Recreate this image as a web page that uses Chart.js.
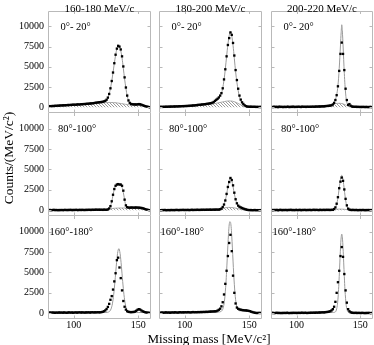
<!DOCTYPE html>
<html><head><meta charset="utf-8">
<script src="https://cdn.jsdelivr.net/npm/chart.js@4/dist/chart.umd.min.js"></script>
<style>
html,body{margin:0;padding:0;background:#fff}
body{width:374px;height:345px;position:relative;overflow:hidden;font-family:"Liberation Serif",serif;color:#000}
canvas{position:absolute}
.t{position:absolute;white-space:nowrap;line-height:1;transform:translate(-50%,-50%)}
.a{position:absolute;white-space:nowrap;line-height:1;transform:translateY(-50%)}
</style></head><body>
<script>
// ---------------- data ----------------
const massBins=[80.5,81.5,82.5,83.5,84.5,85.5,86.5,87.5,88.5,89.5,
90.5,91.5,92.5,93.5,94.5,95.5,96.5,97.5,98.5,99.5,
100.5,101.5,102.5,103.5,104.5,105.5,106.5,107.5,108.5,109.5,
110.5,111.5,112.5,113.5,114.5,115.5,116.5,117.5,118.5,119.5,
120.5,121.5,122.5,123.5,124.5,125.5,126.5,127.5,128.5,129.5,
130.5,131.5,132.5,133.5,134.5,135.5,136.5,137.5,138.5,139.5,
140.5,141.5,142.5,143.5,144.5,145.5,146.5,147.5,148.5,149.5,
150.5,151.5,152.5,153.5,154.5,155.5,156.5,157.5,158.5,159.5];
const fitMass=[80,90,100,110,116,120,123,125,126,127,128,129,130,131,132,
132.5,133,133.5,134,134.5,135,135.5,136,136.5,137,137.5,138,
139,140,141,142,143,144,146,148,150,153,156,160];
const bgMass=[80,90,100,110,115,120,125,128,131,134,137,140,143,146,150,155,160];
const yTicks=[0,2500,5000,7500,10000];
const xTicks=[100,150];
const momentumLabels=['160-180 MeV/c','180-200 MeV/c','200-220 MeV/c'];
const angleLabels=['0°- 20°','80°-100°','160°-180°'];

// row 1 : 0-20 deg
const countsA=[120,150,130,170,160,190,180,210,200,230,
230,250,240,270,260,290,280,300,310,320,
330,320,350,360,350,380,390,400,410,420,
440,450,470,480,500,520,550,570,600,620,
640,660,690,730,800,940,1200,1650,2350,3250,
4300,5450,6500,7250,7600,7500,7150,6300,5050,3700,
2450,1450,850,550,420,380,370,360,350,380,
400,380,330,260,200,150,100,60,30,10];
const fitA=[120,240,330,440,550,630,700,820,1000,1380,1950,2750,3750,4850,5950,
6450,6900,7250,7500,7620,7620,7480,7300,7000,6600,6100,5500,
4150,2900,1850,1100,680,470,380,360,300,290,130,20];
const bgA=[110,220,320,410,460,520,580,600,590,540,460,380,320,280,230,150,80];

const countsB=[40,60,50,70,60,80,70,90,80,100,
90,110,100,120,110,130,130,140,150,150,
160,170,170,190,200,210,230,240,260,280,
300,310,330,350,370,390,410,430,460,490,
520,570,660,800,930,1060,1220,1450,1750,2350,
3450,4700,6300,7700,8550,9250,8950,7950,6400,4600,
3370,2300,1450,950,620,420,250,150,100,80,
70,80,60,70,60,50,60,40,50,40];
const fitB=[40,100,160,300,390,500,720,950,1080,1300,1580,2000,2850,4000,5500,
6300,7050,7750,8350,8850,9200,9350,9200,8850,8300,7650,6900,
5200,3700,2550,1650,1050,650,270,110,70,60,50,40];
const bgB=[30,60,120,200,270,370,520,620,720,790,760,600,350,150,30,0,0];

const countsC=[60,30,80,40,70,20,90,50,60,30,
70,40,60,80,30,70,50,90,40,60,
50,80,60,40,90,60,70,50,80,60,
70,60,90,70,80,100,90,110,100,120,
130,120,150,160,180,190,220,250,350,550,
900,1500,2600,4500,6600,8000,6600,4600,2300,900,
300,400,200,100,80,60,70,50,60,40,
50,40,60,30,50,40,30,50,40,30];
const fitC=[60,60,60,80,100,130,170,210,240,290,380,520,750,1200,2000,
2700,3600,4800,6200,7700,9200,10200,9300,7700,5900,4200,2800,
1000,350,180,100,70,60,50,50,50,50,40,40];
const bgC=[0,0,0,0,0,30,150,330,480,500,400,200,60,10,0,0,0];

// row 2 : 80-100 deg
const countsD=[20,40,10,30,50,20,40,10,30,20,
40,20,30,50,20,40,30,60,20,40,
30,50,40,20,60,30,50,40,30,50,
40,60,50,40,70,50,60,80,60,70,
60,70,50,80,60,60,100,220,500,1100,
1900,2600,3000,3150,3200,3150,3150,3000,2400,1300,
600,380,330,320,330,340,320,330,340,330,
320,300,290,250,200,140,90,50,20,10];
const fitD=[30,35,40,50,60,70,70,80,110,180,350,750,1450,2250,2800,
2980,3080,3140,3170,3180,3170,3150,3120,3070,2980,2800,2550,
1750,850,450,350,330,330,330,335,320,260,110,10];
const bgD=[0,0,0,0,10,30,100,170,240,270,280,280,270,250,200,90,0];

const countsE=[20,10,30,20,40,10,20,30,10,40,
20,30,20,50,30,20,40,30,50,30,
40,30,50,20,40,60,30,50,40,60,
50,40,60,50,70,50,60,70,60,80,
60,70,80,70,90,80,80,120,200,400,
700,1200,2000,2850,3450,3950,3700,3050,2150,1350,
850,570,430,340,280,210,150,100,60,30,
20,30,10,20,30,10,20,10,20,10];
const fitE=[20,30,40,50,60,70,80,90,100,130,180,310,550,950,1550,
1950,2400,2850,3300,3650,3900,3980,3900,3650,3300,2900,2450,
1650,1050,680,480,380,300,170,70,30,20,15,10];
const bgE=[0,0,0,0,0,10,60,180,300,350,330,250,130,40,0,0,0];

const countsF=[30,10,40,20,50,0,30,60,10,40,
20,50,10,40,30,60,20,40,10,50,
30,20,60,10,40,30,50,20,40,30,
50,20,40,60,30,50,40,20,60,30,
40,50,30,60,40,50,30,60,50,150,
350,800,1600,2700,3500,4000,3600,2550,1400,600,
200,80,40,30,50,20,40,30,10,40,
20,30,40,10,30,20,40,10,30,20];
const fitF=[30,30,30,35,35,40,40,45,50,60,80,130,250,520,1100,
1550,2100,2700,3300,3800,4150,4280,4150,3750,3150,2500,1850,
800,280,90,40,30,30,30,30,30,30,30,30];
const bgF=[0,0,0,0,0,0,20,60,120,150,130,70,20,0,0,0,0];

// row 3 : 160-180 deg
const countsG=[60,90,70,100,80,60,90,70,100,80,
90,70,100,80,60,90,110,80,100,70,
90,110,80,100,120,90,110,100,80,110,
100,120,90,110,130,100,120,110,130,120,
120,140,180,250,350,520,780,1150,1650,2100,
2900,3900,4900,6500,6800,5600,4300,2800,1500,800,
450,250,180,150,140,150,160,200,300,420,
500,460,350,250,180,130,100,70,50,40];
const fitG=[80,80,90,100,105,105,105,105,110,150,260,540,1150,2270,3900,
4830,5760,6610,7300,7740,7900,7740,7300,6610,5760,4830,3900,
2270,1150,540,260,150,110,100,100,100,90,80,70];

const countsH=[80,60,100,70,90,110,80,100,70,90,
110,90,120,100,80,110,130,100,120,110,
130,110,140,120,100,130,150,120,140,130,
150,130,160,140,170,150,180,160,190,200,
210,220,230,240,250,330,430,560,850,1350,
2300,3600,5200,7000,8600,9600,7600,4600,2500,1200,
700,550,480,430,400,380,360,350,330,300,
260,200,150,100,60,40,30,50,30,40];
const fitH=[80,100,120,140,150,150,150,150,150,170,210,340,740,1740,3730,
5120,6700,8290,9720,10800,11200,11150,10620,9470,7990,6390,4860,
2460,1110,540,355,300,300,290,280,240,120,60,40];

const countsI=[30,50,20,40,60,30,50,20,40,30,
50,30,60,40,20,50,30,60,40,50,
30,60,40,50,70,40,60,50,30,60,
50,70,60,80,60,90,70,100,90,110,
120,110,130,150,170,200,250,350,500,800,
1400,2500,3800,5200,7000,8100,6900,4800,2800,1300,
500,250,120,70,50,40,60,30,50,40,
30,50,40,20,40,30,50,30,20,40];
const fitI=[40,50,50,60,70,80,90,100,100,100,100,100,130,290,960,
1730,2910,4480,6260,7980,9220,9680,9220,7980,6260,4480,2910,
960,270,110,70,60,60,50,50,50,40,40,40];

const panels=[
 [ {counts:countsA,fit:fitA,bg:bgA},{counts:countsB,fit:fitB,bg:bgB},{counts:countsC,fit:fitC,bg:bgC} ],
 [ {counts:countsD,fit:fitD,bg:bgD},{counts:countsE,fit:fitE,bg:bgE},{counts:countsF,fit:fitF,bg:bgF} ],
 [ {counts:countsG,fit:fitG,bg:null},{counts:countsH,fit:fitH,bg:null},{counts:countsI,fit:fitI,bg:null} ]
];

// ---------------- layout ----------------
const colLeft=[48,159,271], colW=[103,103,102];
const rowTop=[11,113,216], rowH=[102,103,103];
const FRAME='#b9b9b9';
Chart.defaults.font.family="'Liberation Serif', serif";
Chart.defaults.color='#000';

function hatchPattern(ctx){
  const c=document.createElement('canvas'); c.width=3; c.height=3;
  const g=c.getContext('2d');
  g.strokeStyle='#707070'; g.lineWidth=0.7;
  g.beginPath();
  g.moveTo(-1,-1); g.lineTo(4,4);
  g.moveTo(-1,2); g.lineTo(1,4);
  g.moveTo(2,-1); g.lineTo(4,1);
  g.stroke();
  return ctx.createPattern(c,'repeat');
}

function addText(cls,txt,x,y,size){
  const d=document.createElement('div'); d.className=cls; d.textContent=txt;
  d.style.left=x+'px'; d.style.top=y+'px'; d.style.fontSize=size+'px';
  document.body.appendChild(d); return d;
}

const angleOffset=[12.5,10,1.5];

for(let r=0;r<3;r++){
  for(let c=0;c<3;c++){
    const p=panels[r][c];
    const padL=c===0?48:0, padB=r===2?16:0;
    const w=colW[c], h=rowH[r];
    const cv=document.createElement('canvas');
    cv.width=w+padL; cv.height=h+padB;
    cv.style.left=(colLeft[c]-padL)+'px'; cv.style.top=rowTop[r]+'px';
    document.body.appendChild(cv);
    const ctx=cv.getContext('2d');
    const datasets=[];
    datasets.push({
      data:p.counts.map((v,i)=>({x:massBins[i],y:v})),
      showLine:false,pointStyle:'rect',pointRadius:1.65,pointBackgroundColor:'#000',
      pointBorderWidth:0,borderWidth:0,order:0
    });
    datasets.push({
      data:p.fit.map((v,i)=>({x:fitMass[i],y:v})),
      showLine:true,borderColor:'#9a9a9a',borderWidth:1,pointRadius:0,fill:false,
      cubicInterpolationMode:'monotone',order:1
    });
    if(p.bg){
      datasets.push({
        data:p.bg.map((v,i)=>({x:bgMass[i],y:v})),
        showLine:true,borderColor:'#999',borderWidth:0.8,pointRadius:0,
        backgroundColor:hatchPattern(ctx),fill:'origin',
        cubicInterpolationMode:'monotone',order:2
      });
    }
    const drawTop=r===0;
    const framePlugin={id:'frame',afterDraw(chart){
      const a=chart.chartArea, xs=chart.scales.x, ys=chart.scales.y, g=chart.ctx;
      g.save(); g.strokeStyle=FRAME; g.lineWidth=1; g.beginPath();
      const L=a.left+0.5, R=a.right-0.5, T=a.top+0.5, B=a.bottom-0.5;
      g.moveTo(L,drawTop?T:a.top); g.lineTo(L,B); g.lineTo(R,B); g.lineTo(R,drawTop?T:a.top);
      if(drawTop){g.moveTo(L,T); g.lineTo(R,T);}
      yTicks.forEach(v=>{const py=Math.round(ys.getPixelForValue(v))+0.5;
        g.moveTo(L,py); g.lineTo(L+3,py); g.moveTo(R,py); g.lineTo(R-3,py);});
      xTicks.forEach(v=>{const px=Math.round(xs.getPixelForValue(v))+0.5;
        g.moveTo(px,B); g.lineTo(px,B-3); g.moveTo(px,a.top); g.lineTo(px,a.top+3);});
      g.stroke(); g.restore();
    }};
    new Chart(cv,{
      type:'scatter',
      data:{datasets},
      options:{
        responsive:false,animation:false,devicePixelRatio:1,events:[],
        plugins:{legend:{display:false},tooltip:{enabled:false}},
        layout:{padding:0,autoPadding:false},
        scales:{
          x:{type:'linear',min:80,max:160,display:r===2,
            grid:{display:false,drawTicks:false},border:{display:false},
            ticks:{font:{size:10},padding:0,maxRotation:0,autoSkip:false,callback:v=>String(v)},
            afterBuildTicks:s=>{s.ticks=xTicks.map(v=>({value:v}));},
            afterFit:s=>{s.height=padB;s.paddingLeft=0;s.paddingRight=0;s.paddingTop=0;s.paddingBottom=0;}},
          y:{type:'linear',min:-700,max:11900,display:c===0,
            grid:{display:false,drawTicks:false},border:{display:false},
            ticks:{font:{size:10},padding:4,autoSkip:false,callback:v=>String(v)},
            afterBuildTicks:s=>{s.ticks=yTicks.map(v=>({value:v}));},
            afterFit:s=>{s.width=padL;s.paddingTop=0;s.paddingBottom=0;s.paddingLeft=0;s.paddingRight=0;}}
        }
      },
      plugins:[framePlugin]
    });
    addText('a',angleLabels[r],colLeft[c]+angleOffset[r],rowTop[r]+15.5,10.5);
  }
}
momentumLabels.forEach((t,c)=>addText('t',t,colLeft[c]+colW[c]/2,8,11));
const yt=addText('t','Counts/(MeV/c²)',8.5,158,13.5);
yt.style.transform='translate(-50%,-50%) rotate(-90deg)';
addText('t','Missing mass [MeV/c²]',209,338,13);
</script>
</body></html>
